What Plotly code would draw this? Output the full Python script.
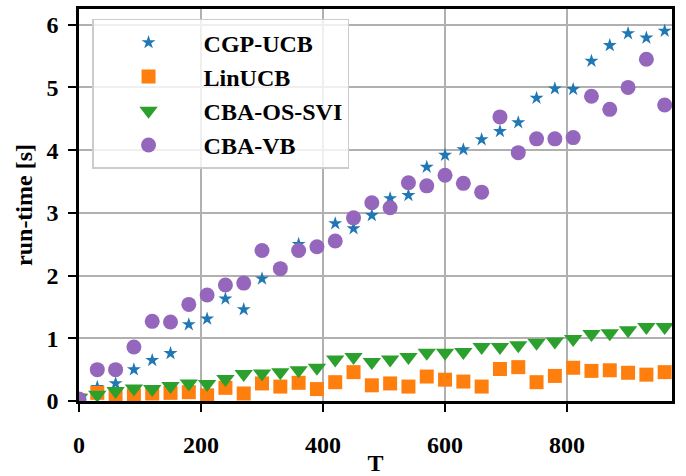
import plotly.graph_objects as go

T = [0, 30, 60, 90, 120, 150, 180, 210, 240, 270, 300, 330, 360, 390, 420, 450, 480,
     510, 540, 570, 600, 630, 660, 690, 720, 750, 780, 810, 840, 870, 900, 930, 960]

cgp_ucb = [0.02, 0.22, 0.28, 0.50, 0.65, 0.76, 1.22, 1.31, 1.63, 1.46, 1.95, 2.12, 2.50,
           2.45, 2.83, 2.75, 2.96, 3.23, 3.28, 3.73, 3.92, 4.01, 4.17, 4.30, 4.44, 4.83,
           4.98, 4.97, 5.42, 5.67, 5.86, 5.79, 5.90]

linucb = [0.01, 0.13, 0.09, 0.09, 0.12, 0.13, 0.14, 0.09, 0.21, 0.12, 0.28, 0.23, 0.29,
          0.19, 0.30, 0.46, 0.25, 0.28, 0.23, 0.39, 0.34, 0.31, 0.23, 0.51, 0.54, 0.30,
          0.40, 0.53, 0.48, 0.49, 0.45, 0.42, 0.46]

cba_os_svi = [0.05, 0.10, 0.16, 0.20, 0.19, 0.24, 0.28, 0.27, 0.35, 0.43, 0.44, 0.46, 0.49,
              0.53, 0.66, 0.70, 0.62, 0.66, 0.70, 0.77, 0.77, 0.78, 0.86, 0.86, 0.89, 0.93,
              0.95, 0.99, 1.07, 1.08, 1.13, 1.18, 1.18]

cba_vb = [0.03, 0.50, 0.50, 0.86, 1.27, 1.26, 1.54, 1.69, 1.85, 1.88, 2.40, 2.11, 2.40,
          2.46, 2.55, 2.92, 3.16, 3.08, 3.48, 3.43, 3.60, 3.47, 3.33, 4.53, 3.96, 4.18,
          4.18, 4.20, 4.86, 4.65, 5.00, 5.45, 4.72]

x_ticks = [0, 200, 400, 600, 800]
y_ticks = [0, 1, 2, 3, 4, 5, 6]

FONT = "Liberation Serif"

series = [
    ("CGP-UCB", cgp_ucb, "star", 10.5, "#1f77b4"),
    ("LinUCB", linucb, "square", 14, "#ff7f0e"),
    ("CBA-OS-SVI", cba_os_svi, "triangle-down", 16, "#2ca02c"),
    ("CBA-VB", cba_vb, "circle", 15, "#9467bd"),
]

fig = go.Figure()
for i, (name, vals, sym, size, col) in enumerate(series):
    fig.add_trace(go.Scatter(
        x=T, y=vals, mode="markers", name=name, legendgroup=f"g{i}",
        marker=dict(symbol=sym, size=size, color=col, line=dict(width=0)),
        cliponaxis=True,
    ))

axis_common = dict(
    showline=True, linecolor="black", linewidth=2.5, mirror=True,
    showgrid=True, gridcolor="#b0b0b0", gridwidth=1.6,
    ticks="outside", ticklen=8, tickwidth=2, tickcolor="black",
    zeroline=False, automargin=False,
    tickfont=dict(family=FONT, size=24, color="black", weight="bold"),
    title_font=dict(family=FONT, size=24, color="black", weight="bold"),
)

fig.update_xaxes(range=[0, 972], tickvals=x_ticks,
                 ticktext=[f"<b>{v}</b>" for v in x_ticks],
                 ticklabelstandoff=12,
                 title_text="<b>T</b>", title_standoff=0, **axis_common)
fig.update_yaxes(range=[0, 6.25], tickvals=y_ticks,
                 ticktext=[f"<b>{v}</b>" for v in y_ticks],
                 ticklabelstandoff=5,
                 title_text="<b>run-time [s]</b>", title_standoff=8, **axis_common)

fig.update_layout(
    width=686, height=476,
    margin=dict(l=79, r=14, t=9, b=75),
    plot_bgcolor="white", paper_bgcolor="white",
    font=dict(family=FONT, color="black"),
    legend=dict(
        x=0.022, y=0.975, xanchor="left", yanchor="top",
        bgcolor="rgba(255,255,255,0.8)", bordercolor="#cccccc", borderwidth=1.5,
        font=dict(family=FONT, size=24, color="black", weight="bold"),
        traceorder="grouped", tracegroupgap=0, itemwidth=100,
    ),
)

fig.write_html("out.html")
